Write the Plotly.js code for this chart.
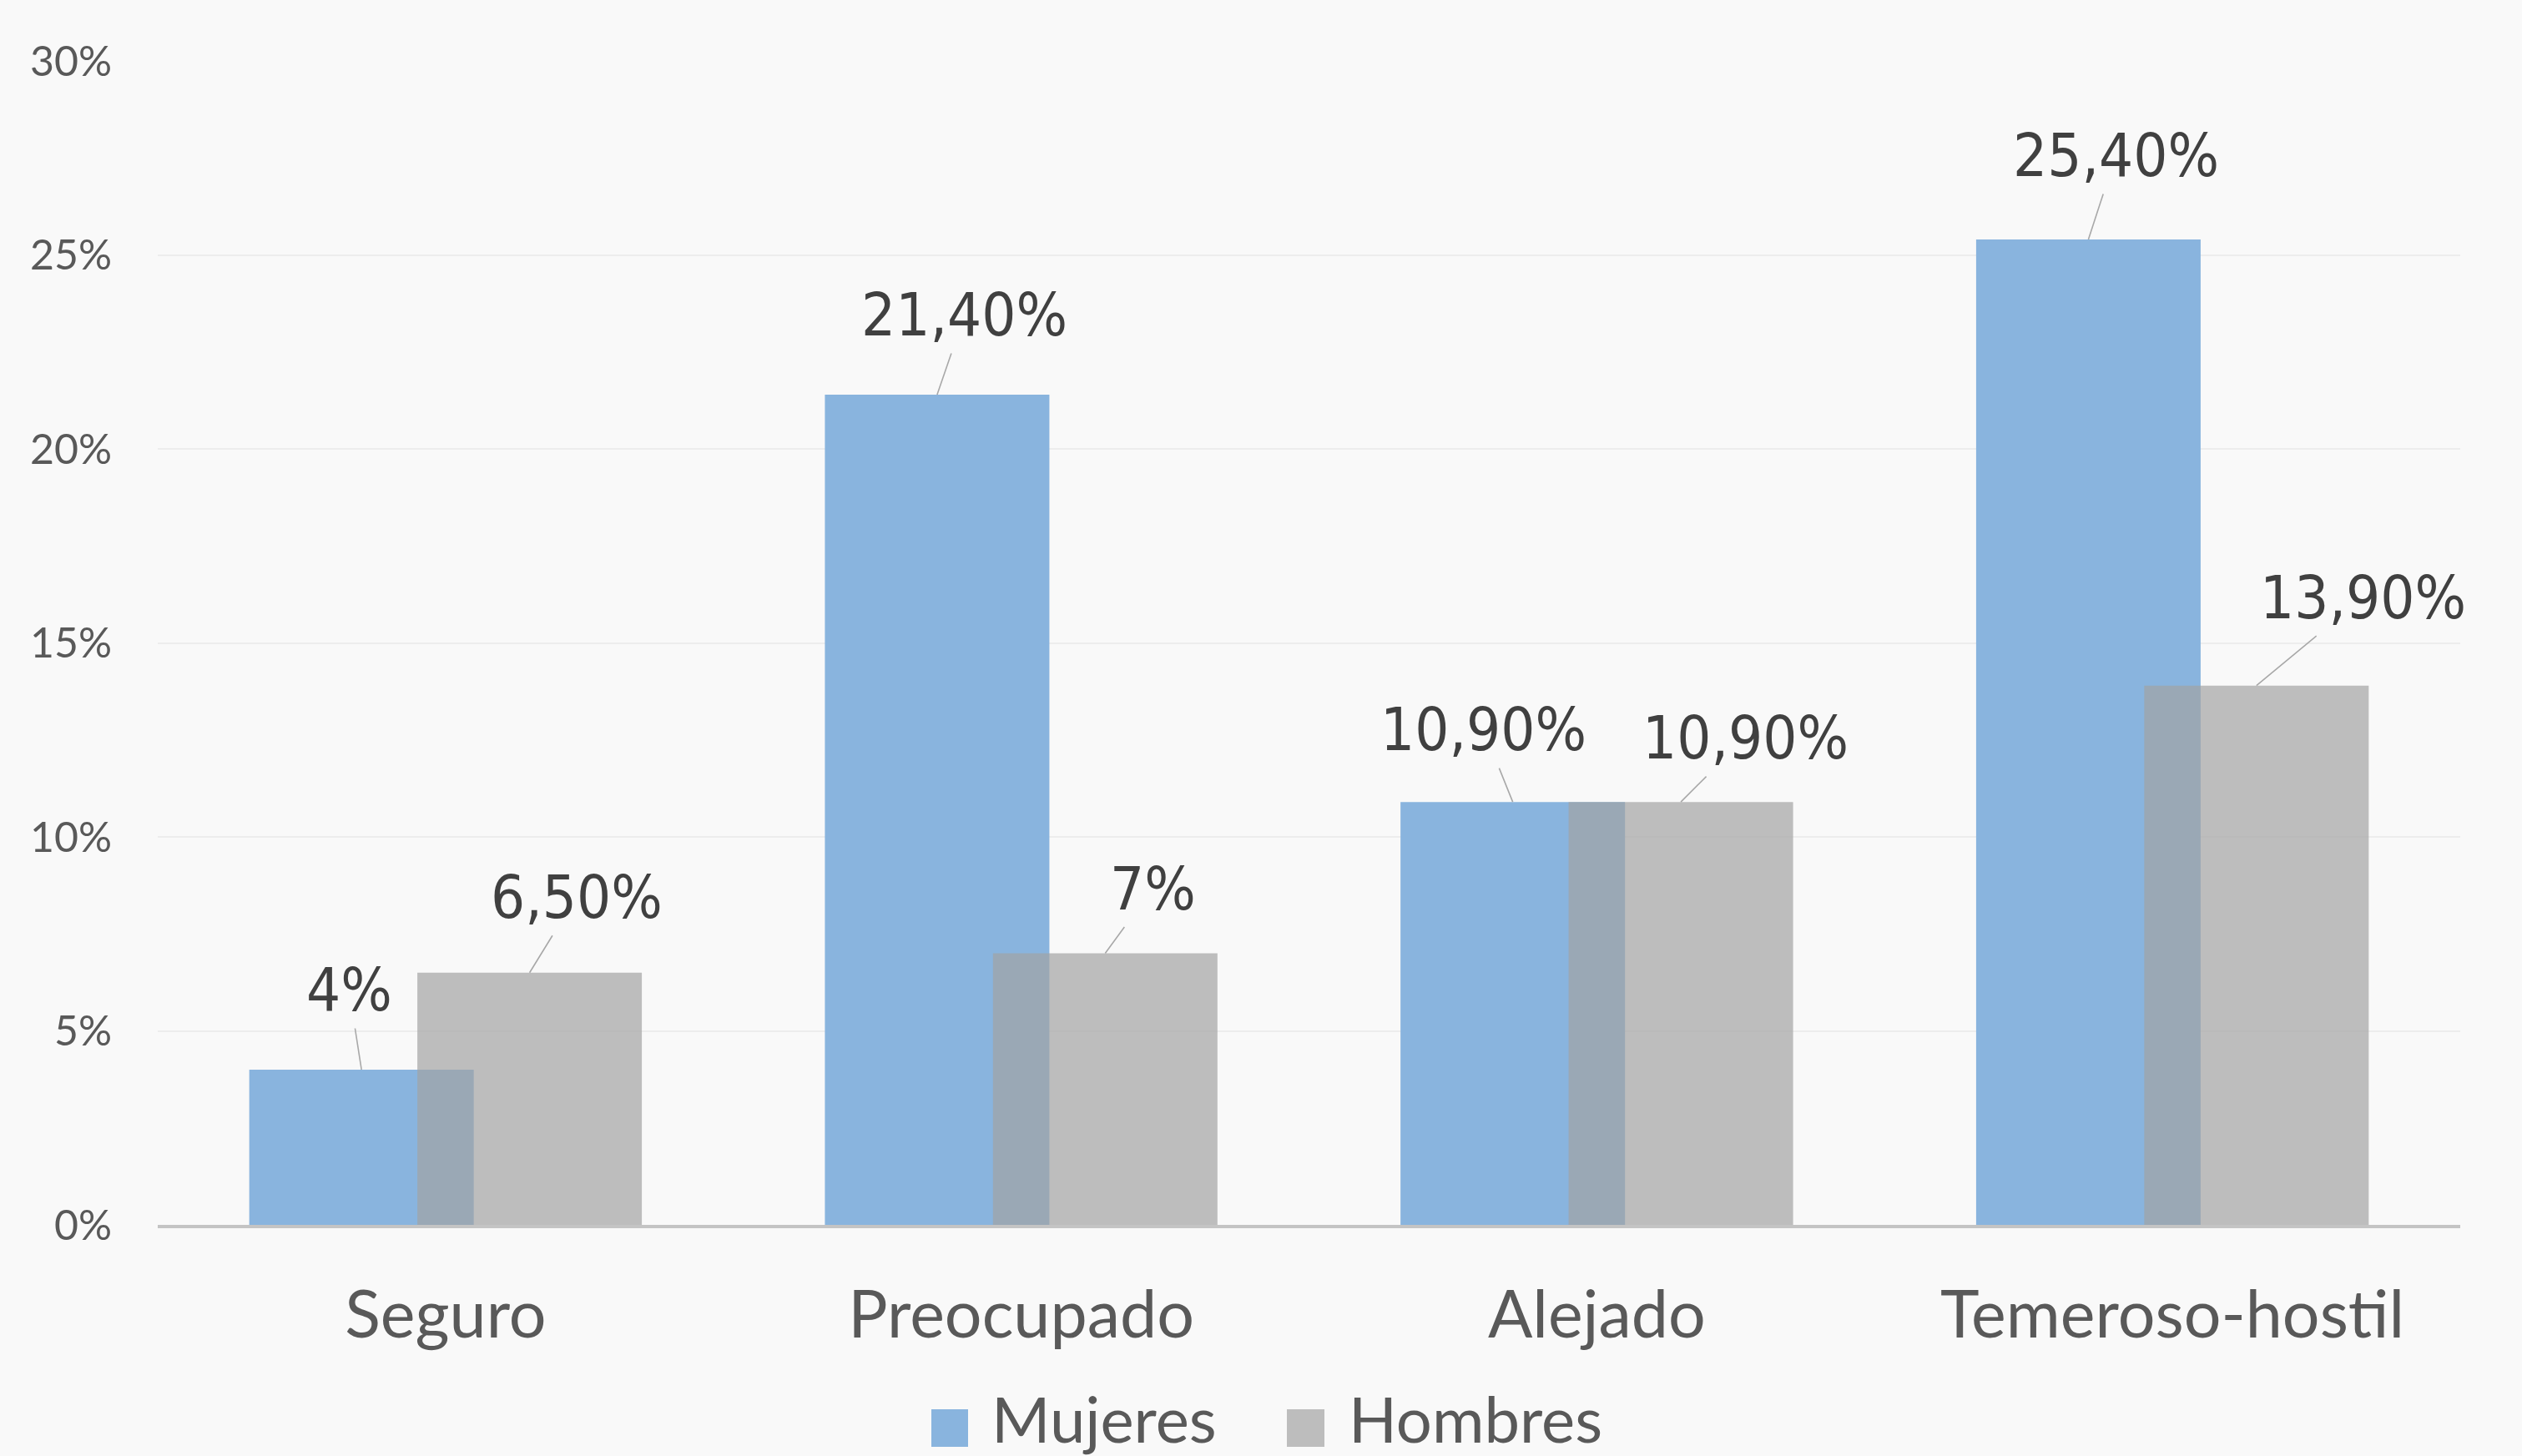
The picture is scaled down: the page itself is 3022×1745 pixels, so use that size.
<!DOCTYPE html>
<html>
<head>
<meta charset="utf-8">
<script src="https://cdn.plot.ly/plotly-3.0.1.min.js"></script>
<style>
  html, body { margin: 0; padding: 0; background: #F9F9F9; }
  #chart { width: 3022px; height: 1745px; }
</style>
</head>
<body>
<div id="chart"></div>
<script>
// ---- data ----
const categories = ['Seguro', 'Preocupado', 'Alejado', 'Temeroso-hostil'];
const mujeres = [4, 21.4, 10.9, 25.4];
const hombres = [6.5, 7, 10.9, 13.9];
const seriesNames = ['Mujeres', 'Hombres'];
const yTickValues = [0, 5, 10, 15, 20, 25, 30];

// ---- style / layout config ----
const W = 3022, H = 1745;
const M = { l: 189, r: 74, t: 73, b: 277 };
const colors = ['#89B4DE', 'rgba(162,162,162,0.69)'];
const legendSwatch = ['#89B4DE', '#BDBDBD'];
const barWidth = 0.39;
const barOffsets = [-0.341, -0.049];
const barCenters = barOffsets.map(o => o + barWidth / 2);
// pixel offsets of the data label centre from the bar top (label placement)
const labelShift = [
  [[-15, -96], [33, -96], [-35, -87], [33, -101]],
  [[56, -91], [57, -78], [77, -77], [128, -106]]
];

function fmt(v) {
  return (Number.isInteger(v) ? String(v) : v.toFixed(2).replace('.', ',')) + '%';
}

const series = [mujeres, hombres];
const traces = series.map((vals, s) => ({
  type: 'bar',
  name: seriesNames[s],
  x: categories,
  y: vals,
  width: barWidth,
  offset: barOffsets[s],
  marker: { color: colors[s], line: { width: 0 } },
  hoverinfo: 'skip',
  showlegend: false
}));

const annotations = [];
series.forEach((vals, s) => {
  vals.forEach((v, i) => {
    annotations.push({
      x: i + barCenters[s], y: v, xref: 'x', yref: 'y',
      text: fmt(v),
      showarrow: true, arrowhead: 0, arrowwidth: 1.6, arrowcolor: '#A8A8A8',
      ax: labelShift[s][i][0], ay: labelShift[s][i][1],
      axref: 'pixel', ayref: 'pixel',
      standoff: 0, borderpad: 4,
      font: { family: 'DejaVu Sans Condensed, DejaVu Sans, sans-serif', size: 72, color: '#404040' }
    });
  });
});

// custom legend (large swatches as in the reference)
const pw = W - M.l - M.r, ph = H - M.t - M.b;
const px = x => (x - M.l) / pw;
const py = y => (H - M.b - y) / ph;
const legendItems = [
  { sx0: 1116, sx1: 1160, tx: 1186 },
  { sx0: 1542, sx1: 1587, tx: 1614 }
];
const shapes = [];
legendItems.forEach((it, s) => {
  shapes.push({
    type: 'rect', xref: 'paper', yref: 'paper',
    x0: px(it.sx0), x1: px(it.sx1), y0: py(1734), y1: py(1689),
    fillcolor: legendSwatch[s], line: { width: 0 }
  });
  annotations.push({
    xref: 'paper', yref: 'paper', x: px(it.tx), y: py(1700),
    xanchor: 'left', yanchor: 'middle', showarrow: false,
    text: seriesNames[s],
    font: { family: 'Lato, sans-serif', size: 76, color: '#595959' }
  });
});

const layout = {
  width: W, height: H,
  margin: M,
  paper_bgcolor: '#F9F9F9',
  plot_bgcolor: '#F9F9F9',
  barmode: 'overlay',
  showlegend: false,
  xaxis: {
    type: 'category',
    range: [-0.5, categories.length - 0.5],
    showline: true, linecolor: '#C4C4C4', linewidth: 4,
    showgrid: false, zeroline: false, ticks: '',
    ticklabelstandoff: 36,
    tickfont: { family: 'Lato, sans-serif', size: 79, color: '#595959' },
    fixedrange: true
  },
  yaxis: {
    range: [0, 30],
    tickvals: yTickValues,
    ticktext: yTickValues.map(v => v + '%'),
    showgrid: true, gridcolor: '#EDEDED', gridwidth: 2,
    zeroline: false, showline: false, ticks: '',
    ticklabelstandoff: 54,
    tickfont: { family: 'Lato, sans-serif', size: 50, color: '#595959' },
    fixedrange: true
  },
  shapes: shapes,
  annotations: annotations,
  font: { family: 'Lato, sans-serif' }
};

Plotly.newPlot('chart', traces, layout, { staticPlot: true, displayModeBar: false });
</script>
</body>
</html>
